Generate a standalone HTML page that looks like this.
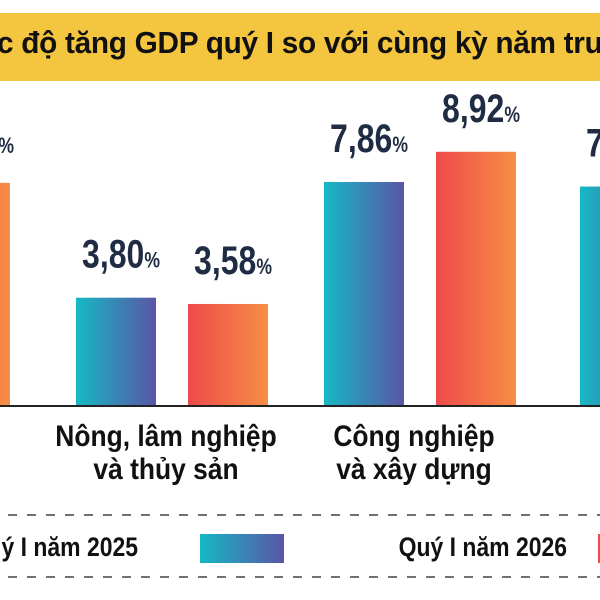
<!DOCTYPE html>
<html><head><meta charset="utf-8"><style>
html,body{margin:0;padding:0;background:#fff;width:600px;height:600px;overflow:hidden;position:relative}
</style></head><body>
<div style="position:absolute;left:0;top:13px;width:600px;height:68px;background:#f4c53e;overflow:hidden">
<div style="position:absolute;left:-3px;top:12px;white-space:nowrap;font-family:'Liberation Sans',sans-serif;font-weight:bold;font-size:31px;color:#111;letter-spacing:-0.3px;transform:scaleX(0.96);transform-origin:left">c độ tăng GDP quý I so với cùng kỳ năm trước</div>
</div>
<svg id="chart" width="600" height="600" style="position:absolute;left:0;top:0;overflow:hidden">
<defs>
<linearGradient id="gt" x1="0" x2="1" y1="0" y2="0"><stop offset="0" stop-color="#16b8c4"/><stop offset="1" stop-color="#5a55a6"/></linearGradient>
<linearGradient id="go" x1="0" x2="1" y1="0" y2="0"><stop offset="0" stop-color="#ee4a4a"/><stop offset="1" stop-color="#f78e45"/></linearGradient>
</defs>
</svg>
<script>
const categories=["Tổng GDP","Nông, lâm nghiệp|và thủy sản","Công nghiệp|và xây dựng","Dịch vụ"];
const values2025=[6.93,3.80,7.86,7.70];
const values2026=[7.83,3.58,8.92,8.00];
const seriesNames=["Quý I năm 2025","Quý I năm 2026"];
const svg=document.getElementById('chart');
const NS='http://www.w3.org/2000/svg';
const base=406, scale=28.5;
const centers=[-86,172,420,676];
const x=i=>centers[i];
const y=v=>base-v*scale;
const FONT='"Liberation Sans",sans-serif';
function add(tag,attrs){const e=document.createElementNS(NS,tag);for(const k in attrs)e.setAttribute(k,attrs[k]);svg.appendChild(e);return e;}
function stext(cx,cy,sx,size,anchor,fill){
  return add('text',{x:0,y:0,transform:`translate(${cx},${cy}) scale(${sx},1)`,'text-anchor':anchor,fill:fill,'font-family':FONT,'font-weight':'bold','font-size':size});
}
function lbl(cx,v){
  const t=stext(cx+5,y(v)-30,0.8,40,'middle','#1f2c44');
  
  
  t.textContent=v.toFixed(2).replace('.',',');
  const s=document.createElementNS(NS,'tspan');s.setAttribute('font-size','22');s.textContent='%';t.appendChild(s);
}
categories.forEach((c,i)=>{
  const cx=x(i);
  const r1=add('rect',{x:cx-96,y:y(values2025[i]),width:80,height:values2025[i]*scale,fill:'url(#gt)'});
  
  
  const r2=add('rect',{x:cx+16,y:y(values2026[i]),width:80,height:values2026[i]*scale,fill:'url(#go)'});
  
  
  lbl(cx-56,values2025[i]);lbl(cx+56,values2026[i]);
  c.split('|').forEach((ln,j)=>{
    const t=stext(cx-6,446+j*33,0.88,30,'middle','#111');
    
    
    t.textContent=ln;
  });
});
const ax=add('line',{x1:0,x2:600,y1:base,y2:base,stroke:'#222','stroke-width':2});


[515,577].forEach(yy=>{const d=add('line',{x1:8,x2:600,y1:yy,y2:yy,stroke:'#444','stroke-width':1.5,'stroke-dasharray':'9 10'});

});
const lx=[138,567], sx=[200,598], fills=['url(#gt)','url(#go)'];
seriesNames.forEach((n,i)=>{
  const t=stext(lx[i],556,0.85,27,'end','#111');
  
  
  t.textContent=n;
  const r=add('rect',{x:sx[i],y:534,width:84,height:29,fill:fills[i]});
  
  
});
</script>
</body></html>
